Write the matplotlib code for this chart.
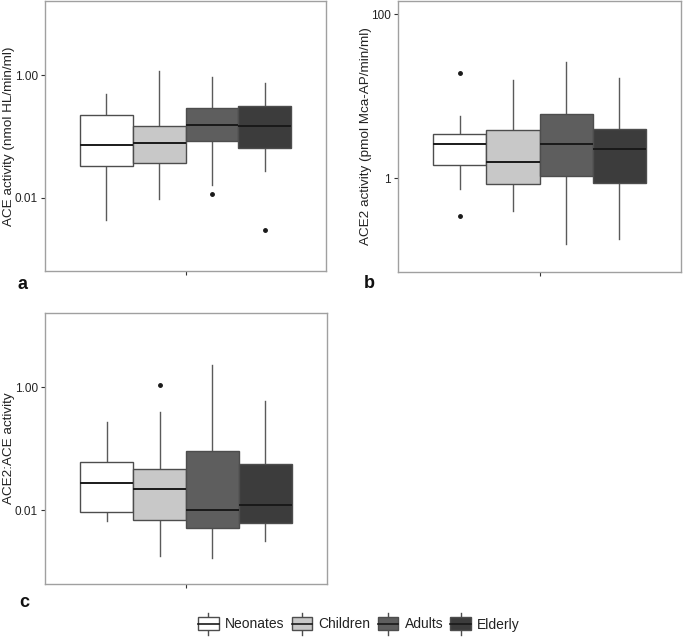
import matplotlib
matplotlib.use("Agg")
import matplotlib.pyplot as plt
from matplotlib.legend_handler import HandlerBase
from matplotlib.patches import Rectangle, Patch
from matplotlib.lines import Line2D
from matplotlib.ticker import FixedLocator, NullLocator

plt.rcParams['font.family'] = ['Liberation Sans', 'DejaVu Sans']

groups = ["Neonates", "Children", "Adults", "Elderly"]
fills = ["#FFFFFF", "#C8C8C8", "#5E5E5E", "#3C3C3C"]

# box stats: (whislo, q1, med, q3, whishi), outliers
ace_stats = [(0.0043, 0.033, 0.071, 0.22, 0.50),
             (0.0094, 0.037, 0.077, 0.15, 1.17),
             (0.016, 0.085, 0.155, 0.29, 0.92),
             (0.027, 0.065, 0.15, 0.31, 0.73)]
ace_out = [[], [], [0.0113], [0.0029]]

ace2_stats = [(0.74, 1.44, 2.65, 3.47, 5.8),
              (0.40, 0.85, 1.6, 3.9, 15.9),
              (0.158, 1.08, 2.6, 6.0, 26.2),
              (0.184, 0.88, 2.28, 4.0, 16.7)]
ace2_out = [[19.4, 0.35], [], [], []]

ratio_stats = [(0.0067, 0.0094, 0.0275, 0.060, 0.27),
               (0.0018, 0.0069, 0.0218, 0.047, 0.39),
               (0.0017, 0.0052, 0.0102, 0.091, 2.34),
               (0.0032, 0.0062, 0.012, 0.057, 0.59)]
ratio_out = [[], [1.10], [], []]

panels = [
    ("a", "ACE activity (nmol HL/min/ml)", ace_stats, ace_out,
     [0.01, 1.0], ["0.01", "1.00"], (10 ** -3.2, 10 ** 1.21)),
    ("b", "ACE2 activity (pmol Mca-AP/min/ml)", ace2_stats, ace2_out,
     [1, 100], ["1", "100"], (10 ** -1.14, 10 ** 2.16)),
    ("c", "ACE2:ACE activity", ratio_stats, ratio_out,
     [0.01, 1.0], ["0.01", "1.00"], (10 ** -3.2, 10 ** 1.21)),
]

edge = "#4D4D4D"
W, H = 685, 638
fig = plt.figure(figsize=(6.85, 6.38), dpi=100)

# axes rectangles in pixels (left, top, right, bottom)
rects = [(45, 1, 326, 271), (398, 1, 681, 272), (45, 313, 327, 584)]
label_pos = [(18, 289), (364, 288), (19, 607)]
ylabel_x = [9, 366, 9]


def draw_panel(ax, stats, outliers, ticks, ticklabels, ylim, ylabel, lx):
    bxp_stats = []
    for (lo, q1, med, q3, hi), fl in zip(stats, outliers):
        bxp_stats.append(dict(whislo=lo, q1=q1, med=med, q3=q3, whishi=hi, fliers=fl))
    bp = ax.bxp(bxp_stats, positions=range(4), widths=1.0, patch_artist=True,
                showcaps=False,
                boxprops=dict(edgecolor=edge, linewidth=1.0),
                whiskerprops=dict(color="#5A5A5A", linewidth=1.0),
                medianprops=dict(color="#1A1A1A", linewidth=1.4),
                flierprops=dict(marker="o", markersize=2.5, markerfacecolor="#1A1A1A",
                                markeredgecolor="#1A1A1A"))
    for box, c in zip(bp["boxes"], fills):
        box.set_facecolor(c)
    for w in bp["whiskers"]:
        w.set_zorder(0.5)
    ax.set_yscale("log")
    ax.set_ylim(*ylim)
    ax.set_xlim(-1.167, 4.167)
    ax.yaxis.set_major_locator(FixedLocator(ticks))
    ax.set_yticklabels(ticklabels)
    ax.yaxis.set_minor_locator(NullLocator())
    ax.set_xticks([1.5])
    ax.set_xticklabels([""])
    ax.tick_params(axis="both", length=3, color="#333333", labelsize=8.5,
                   labelcolor="#222222", pad=2)
    for s in ax.spines.values():
        s.set_color("#A0A0A0")
        s.set_linewidth(1.0)
    ax.set_ylabel(ylabel, fontsize=9.7, color="#222222", va="center")
    l = ax.get_position().x0 * W
    w = ax.get_position().width * W
    ax.yaxis.set_label_coords((lx - l) / w, 0.5)


for (lab, ylabel, stats, outs, ticks, tlabels, ylim), (l, t, r, b), (px, py), yx in zip(
        panels, rects, label_pos, ylabel_x):
    ax = fig.add_axes([l / W, 1 - b / H, (r - l) / W, (b - t) / H])
    draw_panel(ax, stats, outs, ticks, tlabels, ylim, ylabel, yx)
    fig.text(px / W, 1 - py / H, lab, fontsize=13, fontweight="bold",
             ha="left", va="baseline", color="#111111")


class BoxKeyHandler(HandlerBase):
    def create_artists(self, legend, orig_handle, xdescent, ydescent,
                       width, height, fontsize, trans):
        fc = orig_handle.get_facecolor()
        x0 = -xdescent
        yc = -ydescent + height / 2
        bh = fontsize * 0.95
        wh = fontsize * 1.6
        rect = Rectangle((x0, yc - bh / 2), width, bh, facecolor=fc, edgecolor=edge,
                         linewidth=1.0, transform=trans)
        xm = x0 + width / 2
        mid = Line2D([x0, x0 + width], [yc, yc], color="#1A1A1A",
                     linewidth=1.2, transform=trans)
        whisk = Line2D([xm, xm], [yc - wh / 2, yc + wh / 2], color=edge,
                       linewidth=1.0, transform=trans)
        return [whisk, rect, mid]


handles = [Patch(facecolor=c, label=g) for c, g in zip(fills, groups)]
fig.legend(handles=handles, labels=groups, loc="center", ncol=4,
           bbox_to_anchor=(359 / W, 1 - 624.5 / H), frameon=False,
           handler_map={Patch: BoxKeyHandler()}, fontsize=10,
           handlelength=1.5, handleheight=1.0, handletextpad=0.45,
           columnspacing=0.5, labelcolor="#222222")

fig.savefig("out.png", dpi=100)
